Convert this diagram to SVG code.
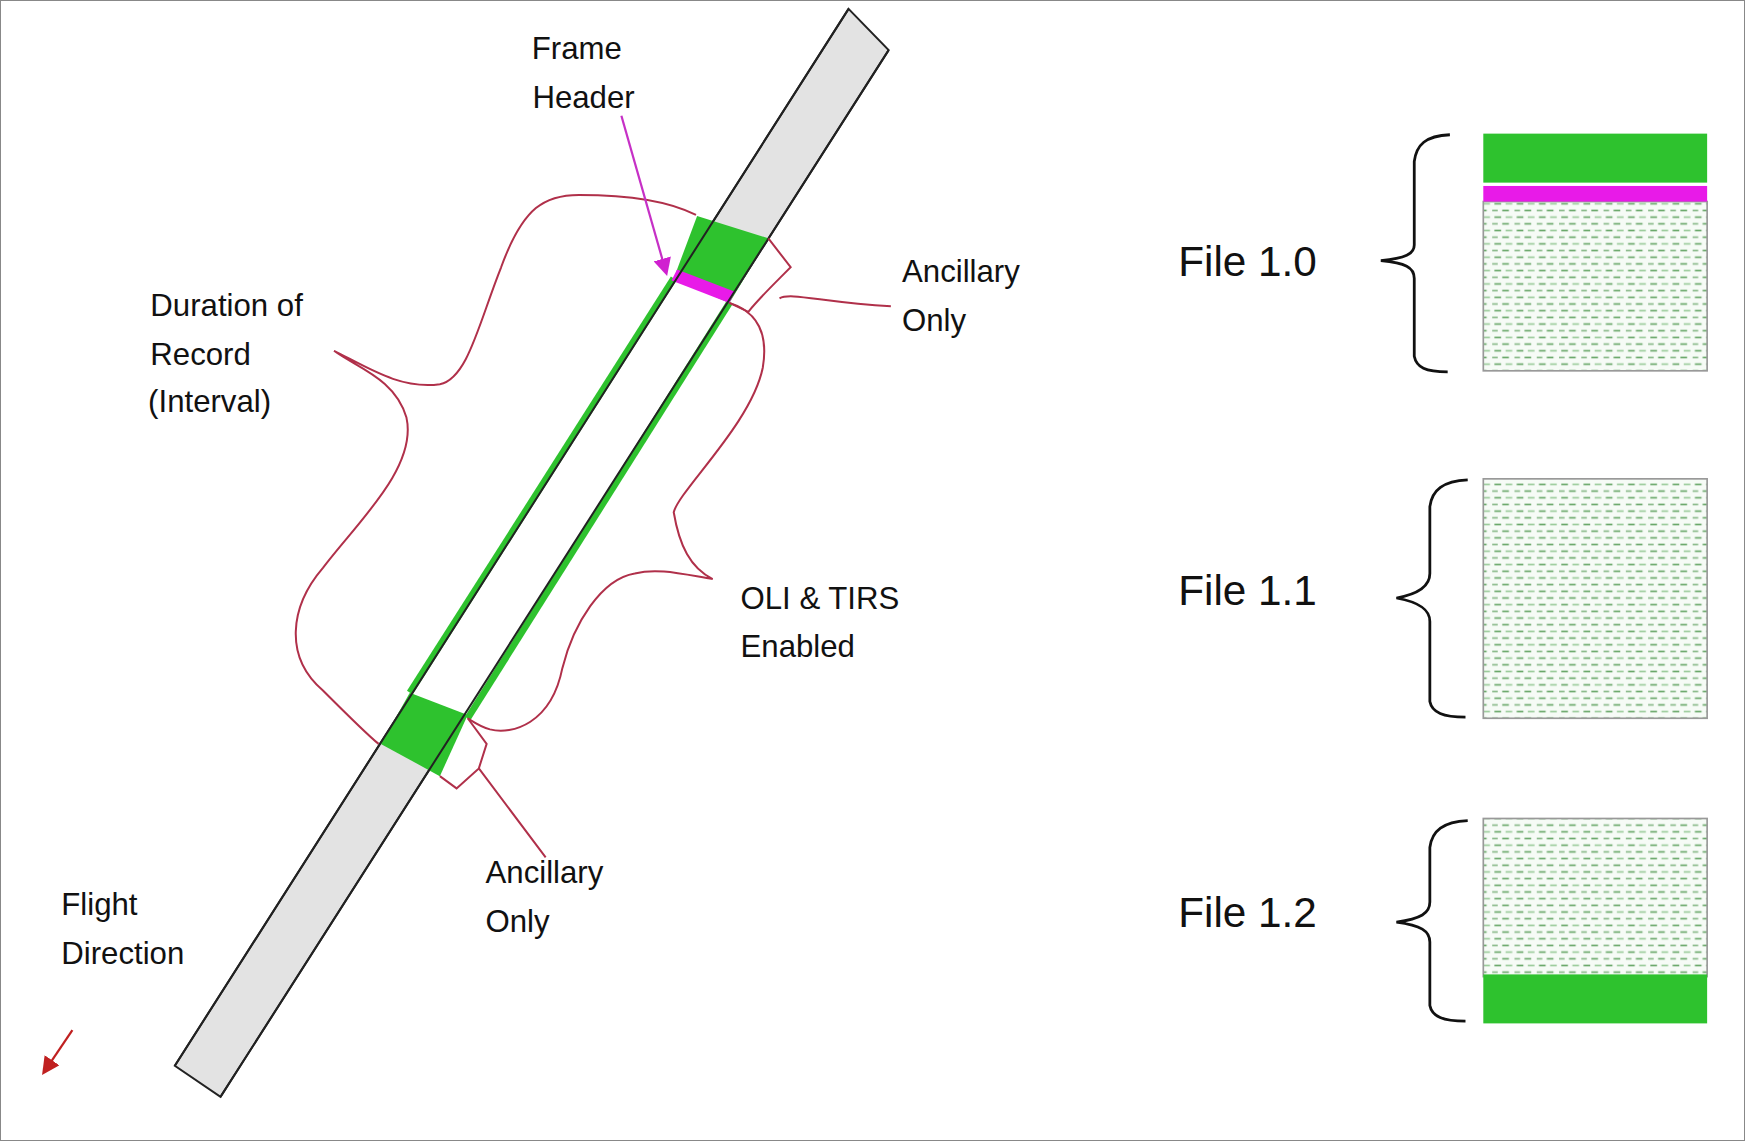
<svg xmlns="http://www.w3.org/2000/svg" width="1745" height="1141" viewBox="0 0 1745 1141">
<style>
.t{font-family:"Liberation Sans",Arial,sans-serif;font-size:28px;fill:#111}
.f{font-family:"Liberation Sans",Arial,sans-serif;font-size:38px;fill:#111}
.r{fill:none;stroke:#b0304a;stroke-width:1.8}
.b{fill:none;stroke:#111;stroke-width:2.5}
</style>
<defs>
<pattern id="dash" width="20" height="12" patternUnits="userSpaceOnUse">
<rect width="20" height="12" fill="#f6fbf6"/>
<line x1="2" y1="3" x2="8" y2="3" stroke="#6aa86a" stroke-width="1.5"/>
<line x1="12" y1="3" x2="18" y2="3" stroke="#9ccc9c" stroke-width="1.5"/>
<line x1="0" y1="9" x2="5" y2="9" stroke="#8aba8a" stroke-width="1.5"/>
<line x1="9" y1="9" x2="15" y2="9" stroke="#6aa86a" stroke-width="1.5"/>
</pattern>
<marker id="ar" markerWidth="8" markerHeight="8" refX="6" refY="4" orient="auto"><path d="M0,0 L8,4 L0,8z" fill="#c02020"/></marker>
<marker id="am" markerWidth="8" markerHeight="8" refX="6" refY="4" orient="auto"><path d="M0,0 L8,4 L0,8z" fill="#d020d0"/></marker>
</defs>
<rect x="0" y="0" width="1745" height="1141" fill="#fff" stroke="#888" stroke-width="2"/>
<g transform="scale(1.11359)">
<g id="strip">
<path d="M762,8 L798,45 L198,985 L157,957 Z" fill="#e3e3e3" stroke="#222" stroke-width="1.8"/>
<path d="M605,250 L655,272 L420,645 L368,622 Z" fill="#fff"/>
<path d="M605,250 L368,622" stroke="#2ec22e" stroke-width="6"/>
<path d="M655,272 L420,645" stroke="#2ec22e" stroke-width="6"/>
<path d="M626,194 L690,214 L655,272 L605,250 Z" fill="#2ec22e"/>
<path d="M603,252 L655,272 L660,262 L608,242 Z" fill="#e81ae8"/>
<path d="M368,622 L420,642 L395,697 L342,668 Z" fill="#2ec22e"/>
<path d="M762,8 L157,957 M798,45 L198,985" stroke="#222" stroke-width="1.8"/>
</g>
<g id="connectors">
<path class="r" d="M625,193 C600,180 560,175 520,175 C490,175 470,185 450,240 C430,290 420,340 395,345 C360,350 330,330 300,315 C320,330 355,340 365,375 C375,420 320,470 290,510 C260,545 255,590 290,620 C310,640 330,660 340,668"/>
<path class="r" d="M655,272 C680,280 690,300 685,330 C675,380 610,440 605,460 C610,490 620,510 640,520 C610,515 590,510 570,515 C540,520 515,560 505,600 C495,650 460,660 440,655 C430,652 425,648 420,645"/>
<path class="r" d="M690,214 L710,240 L700,250 C690,260 680,270 672,280 L655,272 M700,268 C710,262 740,272 800,275"/>
<path class="r" d="M420,645 L437,668 L430,690 L410,708 L395,697 M430,690 L490,770"/>
<path d="M558,104 L598,244" stroke="#c630c6" stroke-width="2" marker-end="url(#am)"/>
<path d="M65,925 L40,962" stroke="#c02020" stroke-width="2" marker-end="url(#ar)"/>
</g>
<g id="labels">
<text class="t" x="518" y="53" text-anchor="middle">Frame</text>
<text class="t" x="524" y="97" text-anchor="middle">Header</text>
<text class="t" x="135" y="284">Duration of</text>
<text class="t" x="135" y="328">Record</text>
<text class="t" x="133" y="370">(Interval)</text>
<text class="t" x="810" y="253">Ancillary</text>
<text class="t" x="810" y="297">Only</text>
<text class="t" x="665" y="547">OLI &amp; TIRS</text>
<text class="t" x="665" y="590">Enabled</text>
<text class="t" x="436" y="793">Ancillary</text>
<text class="t" x="436" y="837">Only</text>
<text class="t" x="55" y="822">Flight</text>
<text class="t" x="55" y="866">Direction</text>
</g>
<g id="file10">
<text class="f" x="1058" y="248">File 1.0</text>
<path class="b" d="M1302,121 C1280,122 1272,130 1270,145 L1270,220 C1270,228 1262,232 1240,234 C1262,236 1270,240 1270,250 L1270,320 C1272,330 1280,334 1300,334"/>
<rect x="1332" y="181" width="201" height="152" fill="url(#dash)" stroke="#999" stroke-width="1.5"/>
<rect x="1332" y="120" width="201" height="44" fill="#2ec22e"/>
<rect x="1332" y="167" width="201" height="14" fill="#e81ae8"/>
</g>
<g id="file11">
<text class="f" x="1058" y="543">File 1.1</text>
<path class="b" d="M1318,431 C1296,432 1286,440 1284,455 L1284,515 C1284,525 1276,533 1254,537 C1276,541 1284,548 1284,558 L1284,630 C1286,640 1296,644 1316,644"/>
<rect x="1332" y="430" width="201" height="215" fill="url(#dash)" stroke="#999" stroke-width="1.5"/>
</g>
<g id="file12">
<text class="f" x="1058" y="832">File 1.2</text>
<path class="b" d="M1318,737 C1296,738 1286,746 1284,761 L1284,810 C1284,820 1276,825 1254,828 C1276,831 1284,836 1284,846 L1284,903 C1286,913 1296,917 1316,917"/>
<rect x="1332" y="735" width="201" height="142" fill="url(#dash)" stroke="#999" stroke-width="1.5"/>
<rect x="1332" y="875" width="201" height="44" fill="#2ec22e"/>
</g>
</g>
</svg>
